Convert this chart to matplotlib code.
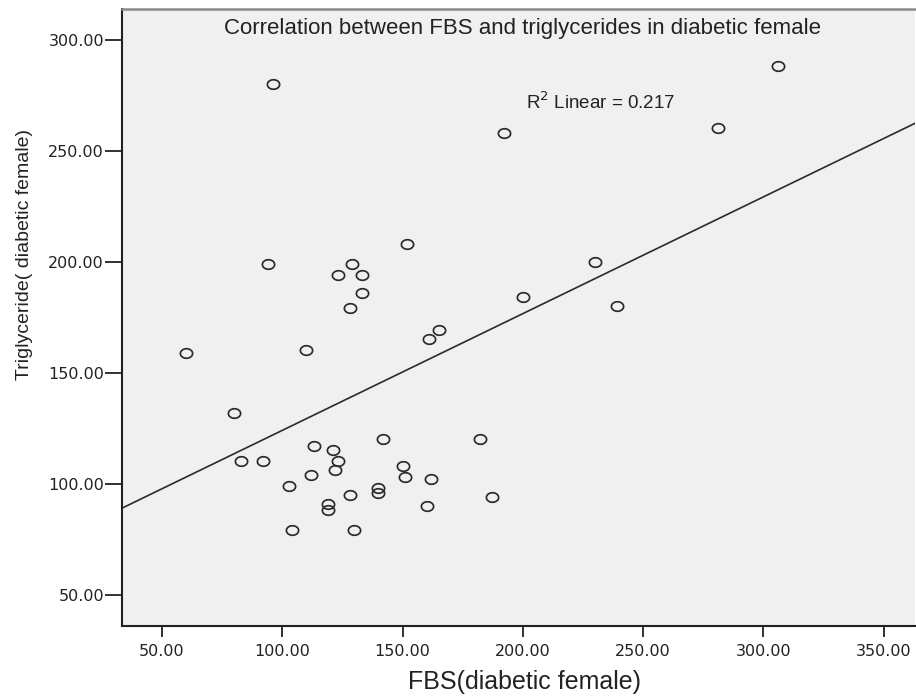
import numpy as np
import matplotlib
matplotlib.use("Agg")
import matplotlib.pyplot as plt
from matplotlib.path import Path

# FBS (x) and triglyceride (y) values
fbs = [60, 110, 128, 133, 161, 165, 80, 83, 92, 113, 121, 123, 122, 112,
       103, 104, 119, 119, 128, 130, 140, 140, 142, 150, 151, 162, 160, 182,
       187, 96, 192, 152, 94, 129, 123, 133, 200, 306, 281, 230, 239]
tg = [159, 160, 179, 186, 165, 169, 132, 110, 110, 117, 115, 110, 106, 104,
      99, 79, 91, 88, 95, 79, 98, 96, 120, 108, 103, 102, 90, 120,
      94, 280, 258, 208, 199, 199, 194, 194, 184, 288, 260, 200, 180]

x_ticks = [50, 100, 150, 200, 250, 300, 350]
y_ticks = [50, 100, 150, 200, 250, 300]

TITLE = "Correlation between FBS and triglycerides in diabetic female"
XLABEL = "FBS(diabetic female)"
YLABEL = "Triglyceride( diabetic female)"

x = np.array(fbs, float)
y = np.array(tg, float)
slope, icpt = np.polyfit(x, y, 1)
r2 = np.corrcoef(x, y)[0, 1] ** 2

# slightly flattened open circle, like the SPSS marker
t = np.linspace(0, 2 * np.pi, 60)
ellipse = Path(np.column_stack([np.cos(t), 0.78 * np.sin(t)]), closed=True)

fig = plt.figure(figsize=(9.16, 6.96), dpi=100)
ax = fig.add_axes([122 / 916, 70 / 696, 793 / 916, 617 / 696])
ax.set_facecolor("#f0f0f0")

xlim = (33.4, 363.0)
ax.set_xlim(*xlim)
ax.set_ylim(35.9, 313.8)

xx = np.array(xlim)
ax.plot(xx, icpt + slope * xx, color="#2b2b2b", lw=1.2, zorder=2)
ax.plot(x, y, ls="none", marker=ellipse, ms=8.8, mfc="none",
        mec="#2b2b2b", mew=1.25, zorder=3)

ax.set_xticks(x_ticks)
ax.set_yticks(y_ticks)
ax.set_xticklabels([f"{v:.2f}" for v in x_ticks])
ax.set_yticklabels([f"{v:.2f}" for v in y_ticks])
ax.tick_params(axis="x", direction="out", length=8, width=1.3, pad=5,
               labelsize=11.5, colors="#222222")
ax.tick_params(axis="y", direction="out", length=12, width=1.3, pad=1,
               labelsize=11.5, colors="#222222")
for lab in ax.get_xticklabels() + ax.get_yticklabels():
    lab.set_family("DejaVu Sans")

for s in ("left", "bottom"):
    ax.spines[s].set_color("#222222")
    ax.spines[s].set_linewidth(1.5)
ax.spines["top"].set_color("#8a8a8a")
ax.spines["top"].set_linewidth(1.8)
ax.spines["right"].set_visible(False)

ax.text(0.505, 0.969, TITLE, transform=ax.transAxes, ha="center", va="center",
        fontsize=16, family="Liberation Sans", color="#222222")
ax.text(0.509, 0.849, f"R$^2$ Linear = {r2:.3f}", transform=ax.transAxes,
        ha="left", va="center", fontsize=13.5, family="Liberation Sans",
        color="#222222")

fig.text(524 / 916, 1 - 682 / 696, XLABEL, ha="center", va="center",
         fontsize=18, family="Liberation Sans", color="#222222")
fig.text(25 / 916, 1 - 255 / 696, YLABEL, ha="center", va="center",
         rotation=90, fontsize=14, family="Liberation Sans", color="#222222")

fig.savefig("out.png", dpi=100, facecolor="white")
